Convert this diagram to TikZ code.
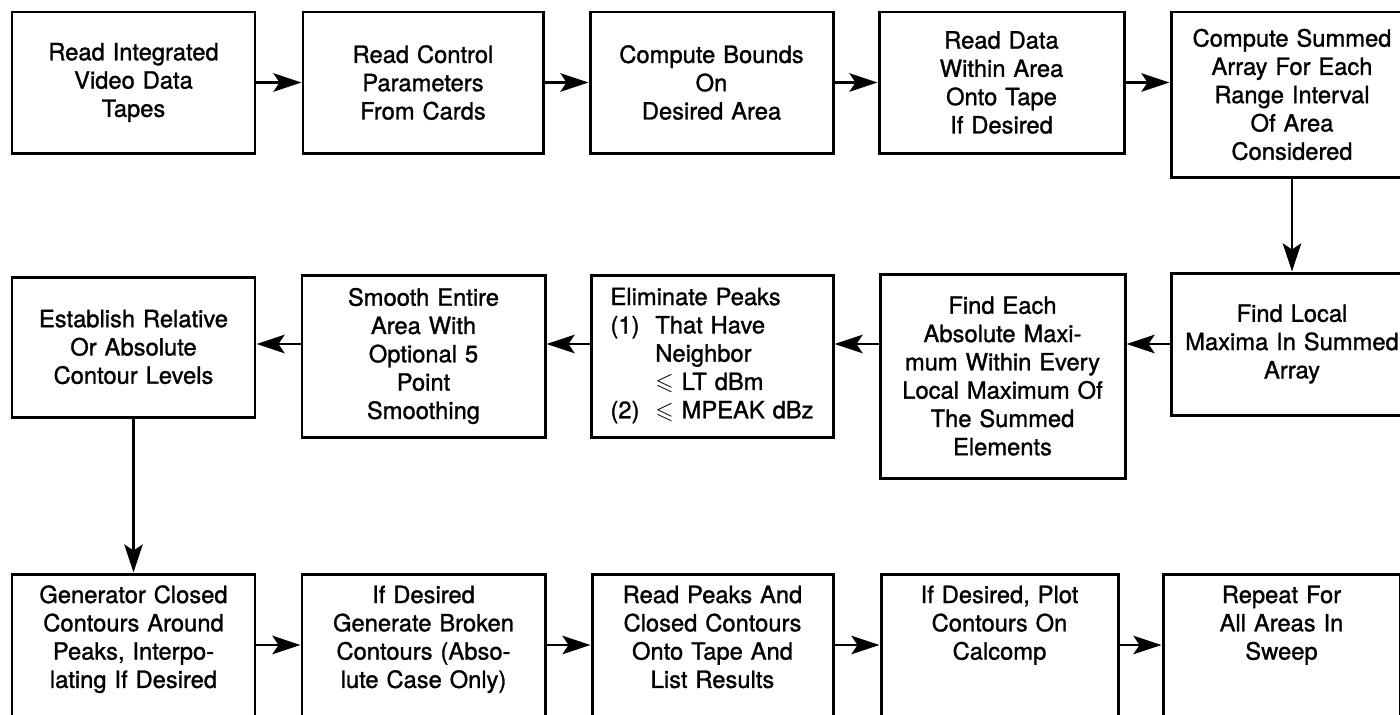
\documentclass[tikz,border=0pt]{standalone}
\usepackage{amsmath,amssymb}
\usepackage{fontspec}
\setmainfont{TeX Gyre Heros}[FakeBold=1.2]
\usetikzlibrary{arrows.meta,positioning}

\begin{document}
\begin{tikzpicture}[
  box/.style={draw, line width=1.7pt, inner sep=2pt, text width=4.4cm, align=center, font=\fontsize{13.5}{16.1}\selectfont},
  lowbox/.style={box, inner ysep=0pt, minimum height=0pt, text height=0.58cm, text depth=2.26cm},
  arrow/.style={-{Stealth[length=16pt, width=10.5pt, inset=3.5pt]}, line width=1.6pt}
]
\useasboundingbox (0,0) rectangle (28,-14.28);
\clip (0,0) rectangle (28,-14.28);
% top row
\node[box, minimum width=4.86cm, minimum height=2.82cm] (tapes) at (2.67,-1.65) {Read Integrated\\Video Data\\Tapes};
\node[box, minimum width=4.80cm, minimum height=2.82cm] (cards) at (8.46,-1.65) {Read Control\\Parameters\\From Cards};
\node[box, minimum width=4.86cm, minimum height=2.82cm] (bounds) at (14.23,-1.65) {Compute Bounds\\On\\Desired Area};
\node[box, minimum width=4.90cm, minimum height=2.82cm] (within) at (20.03,-1.65) {Read Data\\Within Area\\Onto Tape\\If Desired};
\node[box, minimum width=4.84cm, minimum height=3.30cm] (summed) at (25.84,-1.89) {Compute Summed\\Array For Each\\Range Interval\\Of Area\\Considered};
% middle row
\node[box, minimum width=4.84cm, minimum height=2.84cm] (findlocal) at (25.84,-6.88) {Find Local\\Maxima In Summed\\Array};
\node[box, minimum width=4.90cm, minimum height=4.08cm] (findeach) at (20.05,-7.52) {Find Each\\Absolute Maxi-\\mum Within Every\\Local Maximum Of\\The Summed\\Elements};
\node[box, minimum width=4.84cm, minimum height=3.24cm] (elim) at (14.24,-7.12) {\begin{tabular}{@{}l@{\hspace{9pt}}l@{}}
\multicolumn{2}{@{}l@{}}{Eliminate Peaks}\\
(1) & That Have\\
    & Neighbor\\
    & $\leqslant$ LT dBm\\
(2) & $\leqslant$ MPEAK dBz
\end{tabular}};
\node[box, minimum width=4.86cm, minimum height=3.24cm] (smooth) at (8.47,-7.12) {Smooth Entire\\Area With\\Optional 5\\Point\\Smoothing};
\node[box, minimum width=4.86cm, minimum height=2.80cm] (establish) at (2.67,-6.94) {Establish Relative\\Or Absolute\\Contour Levels};
% bottom row
\node[lowbox, minimum width=4.86cm] (generator) at (2.67,-12.9) {Generator Closed\\Contours Around\\Peaks, Interpo-\\lating If Desired};
\node[lowbox, minimum width=4.86cm] (broken) at (8.47,-12.9) {If Desired\\Generate Broken\\Contours (Abso-\\lute Case Only)};
\node[lowbox, minimum width=4.82cm] (readpeaks) at (14.25,-12.9) {Read Peaks And\\Closed Contours\\Onto Tape And\\List Results};
\node[lowbox, minimum width=4.74cm] (plot) at (19.99,-12.9) {If Desired, Plot\\Contours On\\Calcomp};
\node[lowbox, minimum width=4.74cm] (repeat) at (25.63,-12.9) {Repeat For\\All Areas In\\Sweep};
% connectors
\draw[arrow] (tapes) -- (cards);
\draw[arrow] (cards) -- (bounds);
\draw[arrow] (bounds) -- (within);
\draw[arrow] (within.east) -- (summed.west |- within.east);
\draw[arrow] (summed) -- (findlocal);
\draw[arrow] (findlocal.west) -- (findeach.east |- findlocal.west);
\draw[arrow] (findeach.west |- findlocal.west) -- (elim.east |- findlocal.west);
\draw[arrow] (elim.west |- findlocal.west) -- (smooth.east |- findlocal.west);
\draw[arrow] (smooth.west |- findlocal.west) -- (establish.east |- findlocal.west);
\draw[arrow] (establish) -- (generator);
\draw[arrow] (generator) -- (broken);
\draw[arrow] (broken) -- (readpeaks);
\draw[arrow] (readpeaks) -- (plot);
\draw[arrow] (plot) -- (repeat);
\end{tikzpicture}
\end{document}
